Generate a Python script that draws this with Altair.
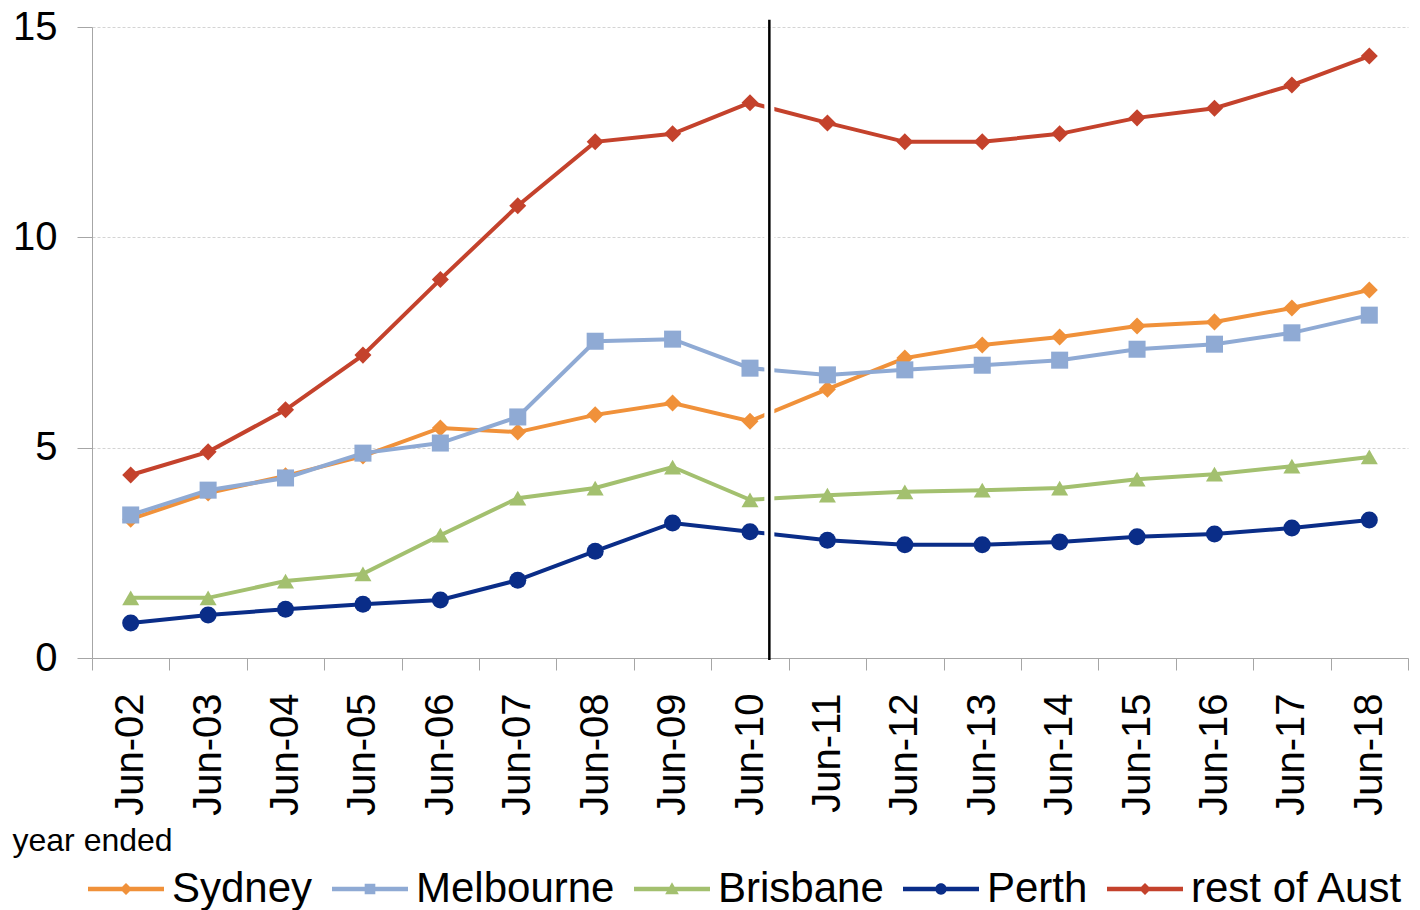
import altair as alt
import pandas as pd

months = ["Jun-02", "Jun-03", "Jun-04", "Jun-05", "Jun-06", "Jun-07", "Jun-08", "Jun-09",
          "Jun-10", "Jun-11", "Jun-12", "Jun-13", "Jun-14", "Jun-15", "Jun-16", "Jun-17", "Jun-18"]
series_names = ["Sydney", "Melbourne", "Brisbane", "Perth", "rest of Aust"]
sydney = [3.30, 3.92, 4.33, 4.80, 5.47, 5.37, 5.78, 6.06, 5.63, 6.39, 7.13, 7.44, 7.63, 7.89, 7.99, 8.32, 8.75]
melbourne = [3.40, 3.99, 4.28, 4.87, 5.11, 5.73, 7.53, 7.58, 6.89, 6.73, 6.85, 6.96, 7.08, 7.34, 7.46, 7.73, 8.15]
brisbane = [1.43, 1.43, 1.83, 2.00, 2.92, 3.80, 4.04, 4.54, 3.76, 3.87, 3.95, 3.99, 4.04, 4.25, 4.37, 4.56, 4.78]
perth = [0.83, 1.02, 1.16, 1.28, 1.38, 1.85, 2.54, 3.21, 3.00, 2.80, 2.69, 2.69, 2.76, 2.88, 2.95, 3.09, 3.28]
rest_of_aust = [4.35, 4.90, 5.90, 7.20, 9.00, 10.75, 12.27, 12.46, 13.20, 12.72, 12.27, 12.27, 12.46, 12.84, 13.07, 13.62, 14.31]
break_pos = [8.25]
y_ticks = [0, 5, 10, 15]

colors = ["#F0913A", "#8FAAD4", "#A3C06F", "#0A2D88", "#C4422C"]
shapes = ["diamond", "square", "triangle-up", "circle", "diamond"]
line_part = "M-1,-0.06L1,-0.06L1,0.06L-1,0.06Z"
legend_paths = [
    line_part + "M0,-0.16L0.16,0L0,0.16L-0.16,0Z",
    line_part + "M-0.14,-0.14L0.14,-0.14L0.14,0.14L-0.14,0.14Z",
    line_part + "M0,-0.18L0.18,0.14L-0.18,0.14Z",
    line_part + "M-0.15,0A0.15,0.15,0,1,1,0.15,0A0.15,0.15,0,1,1,-0.15,0Z",
    line_part + "M0,-0.16L0.16,0L0,0.16L-0.16,0Z",
]

rows = []
for name, vals in zip(series_names, [sydney, melbourne, brisbane, perth, rest_of_aust]):
    for i, (m, v) in enumerate(zip(months, vals)):
        rows.append({"series": name, "idx": i, "month": m, "value": v})
df = pd.DataFrame(rows)
break_df = pd.DataFrame({"idx": break_pos})

FONT = "Liberation Sans"
GRAY = "#a6a6a6"

n = len(months)
tick_vals = [i - 0.5 for i in range(n + 1)] + list(range(n))
label_arr = "[" + ",".join("'" + m + "'" for m in months) + "]"

x_axis = alt.Axis(
    values=tick_vals,
    labelExpr=f"datum.value % 1 == 0 ? {label_arr}[datum.value] : ''",
    tickOpacity={"condition": {"test": "datum.value % 1 == 0", "value": 0}, "value": 1},
    labelAngle=-90, labelFontSize=40, labelFont=FONT, labelColor="black",
    labelPadding=23, tickSize=12, tickColor=GRAY, domainColor=GRAY,
    labelOverlap=False, labelFlush=False, grid=False,
    titleX=-80, titleY=182, titleAlign="left", titleBaseline="middle",
    titleFontSize=32, titleFont=FONT, titleFontWeight="normal", titleColor="black",
    titleAngle=0,
)
y_axis = alt.Axis(
    values=y_ticks, labelFontSize=40, labelFont=FONT, labelColor="black",
    labelPadding=20, tickSize=15, tickColor=GRAY, domainColor=GRAY,
    grid=True, gridColor="#d4d4d4", gridDash=[3, 2], title=None,
)
x_scale = alt.Scale(domain=[-0.5, n - 0.5], nice=False, zero=False)
y_scale = alt.Scale(domain=[0, 15], nice=False)

x_enc = alt.X("idx:Q", scale=x_scale, axis=x_axis, title="year ended")
y_enc = alt.Y("value:Q", scale=y_scale, axis=y_axis)
c_scale = alt.Scale(domain=series_names, range=colors)

lines = alt.Chart(df).mark_line(strokeWidth=4).encode(
    x=x_enc, y=y_enc,
    color=alt.Color("series:N", scale=c_scale, legend=None),
)
points = alt.Chart(df).mark_point(filled=True, size=290, opacity=1, strokeWidth=0).encode(
    x=x_enc, y=y_enc,
    color=alt.Color("series:N", scale=c_scale, legend=None),
    shape=alt.Shape("series:N", scale=alt.Scale(domain=series_names, range=shapes), legend=None),
)
leg = alt.Legend(
    orient="none", legendX=-4, legendY=824, direction="horizontal", title=None,
    labelFontSize=42, labelFont=FONT, labelColor="black", symbolSize=5776,
    symbolStrokeWidth=0, labelOffset=8, columnPadding=19, padding=0, labelLimit=600,
)
legend_layer = alt.Chart(df).transform_filter("false").mark_point(filled=True, opacity=1, strokeWidth=0).encode(
    x=x_enc, y=y_enc,
    color=alt.Color("series:N", scale=c_scale, legend=leg),
    shape=alt.Shape("series:N", scale=alt.Scale(domain=series_names, range=legend_paths), legend=leg),
)
mask = alt.Chart(break_df).mark_rule(color="white", strokeWidth=10).encode(
    x=x_enc, y=alt.datum(0.15), y2=alt.datum(14.9),
)
rule = alt.Chart(break_df).mark_rule(color="black", strokeWidth=2.5).encode(
    x=x_enc, y=alt.datum(-0.05), y2=alt.datum(15.17),
)

chart = alt.layer(lines, points, mask, rule, legend_layer).resolve_scale(
    color="independent", shape="independent"
).properties(
    width=1316, height=631,
    padding={"left": 92, "top": 27, "right": 12, "bottom": 252},
    autosize=alt.AutoSizeParams(type="none"),
    background="white",
).configure_view(stroke=None)

chart.save("out.html", embed_options={"renderer": "svg", "actions": False})
